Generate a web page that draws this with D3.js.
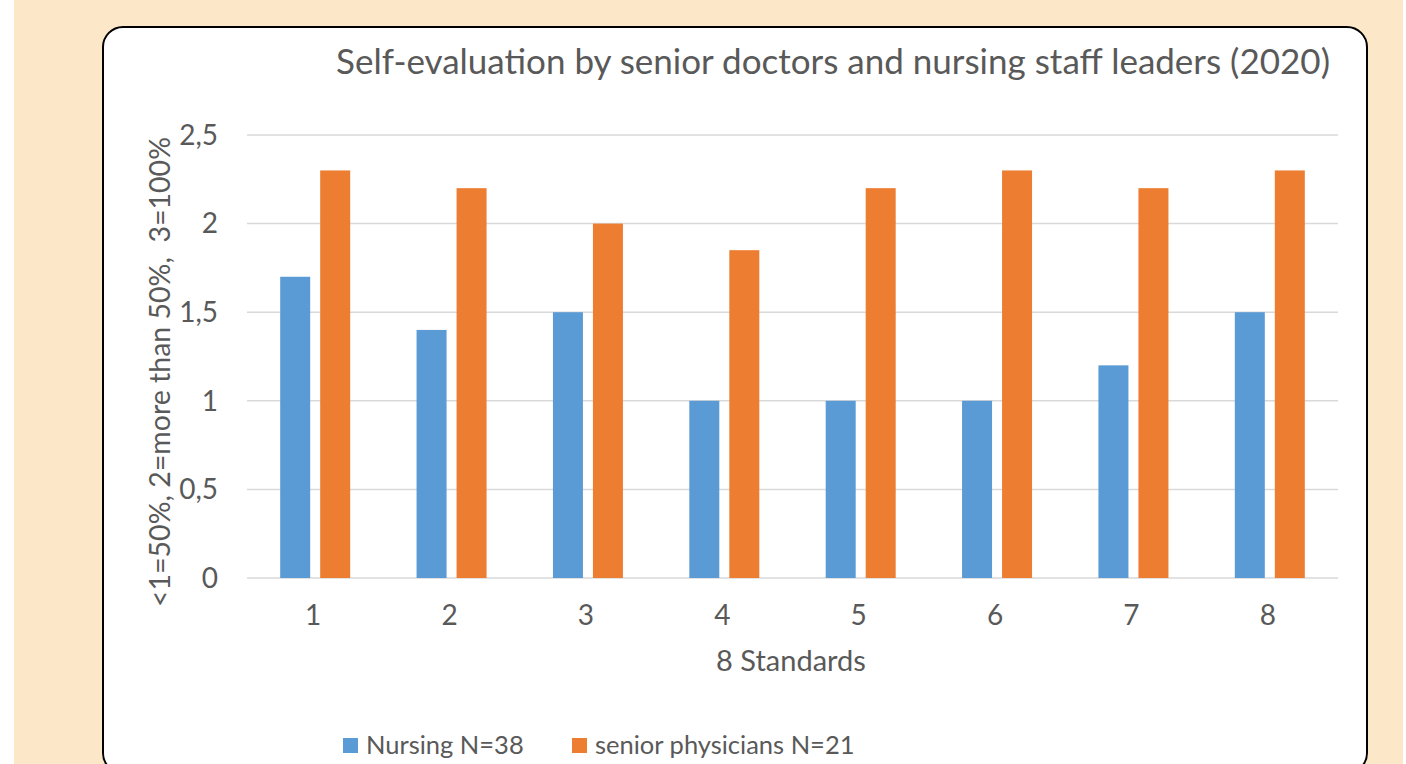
<!DOCTYPE html>
<html>
<head>
<meta charset="utf-8">
<script src="https://cdn.jsdelivr.net/npm/d3@7"></script>
<style>
  html, body { margin: 0; padding: 0; background: #fff; }
  svg text { font-family: Lato, "Open Sans", sans-serif; fill: #595959; }
</style>
</head>
<body>
<script>
// data
const standards = ["1", "2", "3", "4", "5", "6", "7", "8"];
const seriesNames = ["Nursing N=38", "senior physicians N=21"];
const nursing = [1.7, 1.4, 1.5, 1.0, 1.0, 1.0, 1.2, 1.5];
const physicians = [2.3, 2.2, 2.0, 1.85, 2.2, 2.3, 2.2, 2.3];
const yTicks = [0, 0.5, 1, 1.5, 2, 2.5];
const colors = ["#5B9BD5", "#ED7D31"];

const W = 1406, H = 764;
// plot area
const plot = {left: 247, right: 1338, top: 135, bottom: 578};

const svg = d3.select("body").append("svg")
    .attr("width", W)
    .attr("height", H);

// peach background with thin white margins
svg.append("rect")
    .attr("x", 14).attr("y", 0)
    .attr("width", 1389).attr("height", H)
    .attr("fill", "#FDE7C9");

// white rounded panel (bottom runs off the page)
svg.append("rect")
    .attr("x", 103).attr("y", 27)
    .attr("width", 1264).attr("height", 746)
    .attr("rx", 20).attr("ry", 20)
    .attr("fill", "#fff")
    .attr("stroke", "#000")
    .attr("stroke-width", 2);

// scales
const x0 = d3.scaleBand()
    .domain(standards)
    .range([plot.left, plot.right]);

const x1 = d3.scaleBand()
    .domain(seriesNames)
    .range([x0.bandwidth() / 2 - 35, x0.bandwidth() / 2 + 35])
    .paddingInner(0.25);

const y = d3.scaleLinear()
    .domain([0, 2.5])
    .range([plot.bottom, plot.top]);

const locale = d3.formatLocale({decimal: ",", thousands: ".", grouping: [3], currency: ["", "€"]});
const fmt = locale.format("~g");

// gridlines
svg.append("g")
    .selectAll("line")
    .data(yTicks)
    .enter().append("line")
    .attr("x1", plot.left)
    .attr("x2", plot.right)
    .attr("y1", d => y(d))
    .attr("y2", d => y(d))
    .attr("stroke", "#D9D9D9")
    .attr("stroke-width", 1.5);

// y tick labels
svg.append("g")
    .selectAll("text")
    .data(yTicks)
    .enter().append("text")
    .attr("x", plot.left - 29)
    .attr("y", d => y(d))
    .attr("dy", "0.35em")
    .attr("text-anchor", "end")
    .style("font-size", "28px")
    .text(d => fmt(d));

// bars
const rows = standards.map((s, i) => ({key: s, values: [nursing[i], physicians[i]]}));

const groups = svg.append("g")
    .selectAll("g")
    .data(rows)
    .enter().append("g")
    .attr("transform", d => "translate(" + x0(d.key) + ",0)");

groups.selectAll("rect")
    .data(d => d.values.map((v, j) => ({name: seriesNames[j], value: v, j: j})))
    .enter().append("rect")
    .attr("x", d => x1(d.name))
    .attr("width", x1.bandwidth())
    .attr("y", d => y(d.value))
    .attr("height", d => y(0) - y(d.value))
    .attr("fill", d => colors[d.j]);

// x labels
svg.append("g")
    .selectAll("text")
    .data(standards)
    .enter().append("text")
    .attr("x", d => x0(d) + x0.bandwidth() / 2 - 2)
    .attr("y", 615)
    .attr("dy", "0.35em")
    .attr("text-anchor", "middle")
    .style("font-size", "28px")
    .text(d => d);

// axis titles
svg.append("text")
    .attr("x", 791)
    .attr("y", 661)
    .attr("dy", "0.35em")
    .attr("text-anchor", "middle")
    .style("font-size", "29px")
    .text("8 Standards");

svg.append("text")
    .attr("transform", "translate(160,372) rotate(-90)")
    .attr("dy", "0.35em")
    .attr("text-anchor", "middle")
    .style("font-size", "28.5px")
    .style("white-space", "pre")
    .text("<1=50%, 2=more than 50%,  3=100%");

// title
svg.append("text")
    .attr("x", 1330)
    .attr("y", 62)
    .attr("dy", "0.35em")
    .attr("text-anchor", "end")
    .style("font-size", "35px")
    .text("Self-evaluation by senior doctors and nursing staff leaders (2020)");

// legend
const legendX = [343, 572];
const legend = svg.append("g")
    .selectAll("g")
    .data(seriesNames)
    .enter().append("g")
    .attr("transform", (d, i) => "translate(" + legendX[i] + ",738)");

legend.append("rect")
    .attr("width", 15)
    .attr("height", 15)
    .attr("fill", (d, i) => colors[i]);

legend.append("text")
    .attr("x", 23)
    .attr("y", 7.5)
    .attr("dy", "0.35em")
    .style("font-size", "25.5px")
    .text(d => d);
</script>
</body>
</html>
